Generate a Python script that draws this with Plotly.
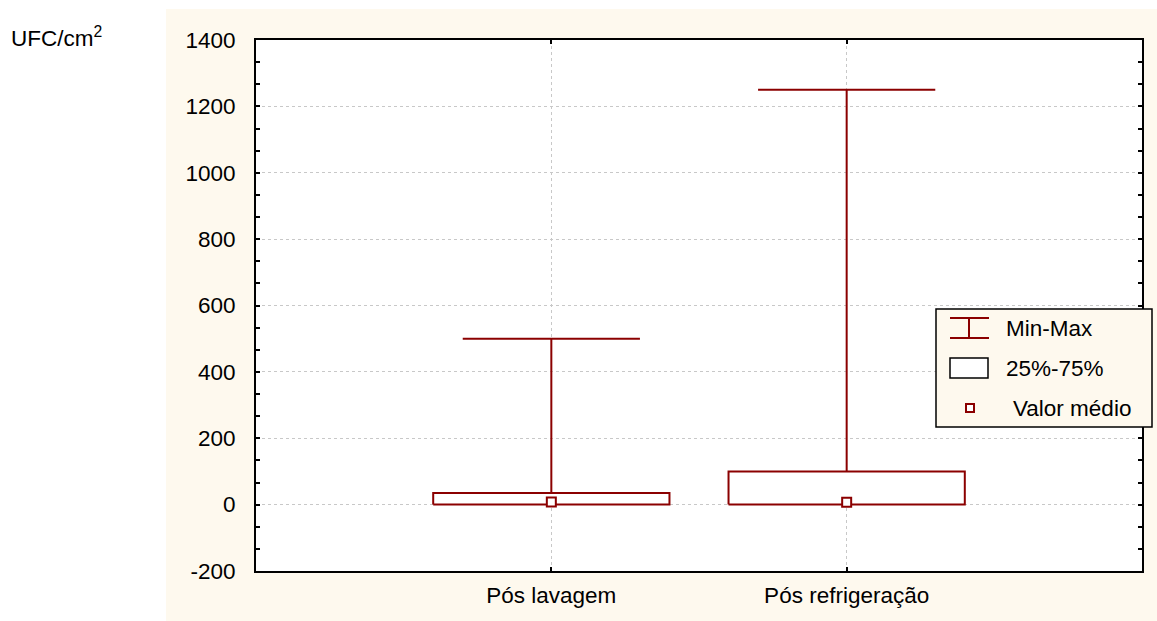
import plotly.graph_objects as go

# ---- data ----
categories = ["Pós lavagem", "Pós refrigeração"]
min_vals = [0, 0]
q1_vals = [0, 0]
q3_vals = [35, 100]
max_vals = [500, 1250]
mean_vals = [8, 7]
y_tickvals = [-200, 0, 200, 400, 600, 800, 1000, 1200, 1400]
y_ticktext = ["-200", "0", "200", "400", "600", "800", "1000", "1200", "1400"]
legend_labels = ["Min-Max", "25%-75%", "Valor médio"]
y_title = "UFC/cm<sup>2</sup>"

RED = "#8B0000"
BEIGE = "#FEF9EE"
FONT = "Liberation Sans, Arial, sans-serif"
FS = 22.5

xpos = [i + 1 for i in range(len(categories))]
box_half = 0.4
cap_half = 0.3

fig = go.Figure()

# whiskers
wx, wy = [], []
for x, lo, q1, q3, hi in zip(xpos, min_vals, q1_vals, q3_vals, max_vals):
    wx += [x, x, None, x - cap_half, x + cap_half, None, x, x, None]
    wy += [q3, hi, None, hi, hi, None, lo, q1, None]
fig.add_trace(go.Scatter(x=wx, y=wy, mode="lines", line=dict(color=RED, width=2),
                         hoverinfo="skip", showlegend=False))

# boxes
for x, q1, q3 in zip(xpos, q1_vals, q3_vals):
    fig.add_trace(go.Scatter(
        x=[x - box_half, x + box_half, x + box_half, x - box_half, x - box_half],
        y=[q1, q1, q3, q3, q1], mode="lines", fill="toself", fillcolor="white",
        line=dict(color=RED, width=2), hoverinfo="skip", showlegend=False))

# means
fig.add_trace(go.Scatter(x=xpos, y=mean_vals, mode="markers",
                         marker=dict(symbol="square", size=9, color="white",
                                     line=dict(color=RED, width=2)),
                         showlegend=False))

# ---- layout ----
W, H = 1157, 621
L, R, T, B = 256, 15, 40, 50
pw, ph = W - L - R, H - T - B

def px(x):
    return (x - L) / pw

def py(y):
    return (H - B - y) / ph

shapes = [
    dict(type="rect", xref="paper", yref="paper", x0=px(166), x1=px(1160),
         y0=py(9), y1=py(625), fillcolor=BEIGE, line=dict(width=0), layer="below"),
    dict(type="rect", xref="paper", yref="paper", x0=0, x1=1, y0=0, y1=1,
         fillcolor="white", line=dict(width=0), layer="below"),
    # legend box
    dict(type="rect", xref="paper", yref="paper", x0=px(936), x1=px(1152),
         y0=py(427), y1=py(309), fillcolor=BEIGE, line=dict(color="black", width=1.5),
         layer="above"),
    # I-bar symbol
    dict(type="line", xref="paper", yref="paper", x0=px(950), x1=px(989),
         y0=py(318), y1=py(318), line=dict(color=RED, width=2), layer="above"),
    dict(type="line", xref="paper", yref="paper", x0=px(950), x1=px(989),
         y0=py(338), y1=py(338), line=dict(color=RED, width=2), layer="above"),
    dict(type="line", xref="paper", yref="paper", x0=px(969), x1=px(969),
         y0=py(318), y1=py(338), line=dict(color=RED, width=2), layer="above"),
    # box symbol
    dict(type="rect", xref="paper", yref="paper", x0=px(950), x1=px(988),
         y0=py(378), y1=py(358), fillcolor="white", line=dict(color="black", width=1.5),
         layer="above"),
    # mean symbol
    dict(type="rect", xref="paper", yref="paper", x0=px(966), x1=px(974),
         y0=py(412), y1=py(404), fillcolor="white", line=dict(color=RED, width=2),
         layer="above"),
]

annotations = [
    dict(text=y_title, xref="paper", yref="paper", x=px(9), y=py(37),
         xanchor="left", yanchor="middle", showarrow=False,
         font=dict(family=FONT, size=FS, color="black")),
    dict(text=legend_labels[0], xref="paper", yref="paper", x=px(1004), y=py(328),
         xanchor="left", yanchor="middle", showarrow=False,
         font=dict(family=FONT, size=FS, color="black")),
    dict(text=legend_labels[1], xref="paper", yref="paper", x=px(1004), y=py(368),
         xanchor="left", yanchor="middle", showarrow=False,
         font=dict(family=FONT, size=FS, color="black")),
    dict(text=legend_labels[2], xref="paper", yref="paper", x=px(1011), y=py(408),
         xanchor="left", yanchor="middle", showarrow=False,
         font=dict(family=FONT, size=FS, color="black")),
]

fig.update_layout(
    width=W, height=H,
    margin=dict(l=L, r=R, t=T, b=B, pad=0),
    paper_bgcolor="white", plot_bgcolor="white",
    font=dict(family=FONT, size=FS, color="black"),
    shapes=shapes, annotations=annotations, showlegend=False,
    xaxis=dict(range=[0, len(categories) + 1], tickvals=xpos, ticktext=categories,
               showline=True, linecolor="black", linewidth=2, mirror="allticks",
               ticks="inside", ticklen=4, tickcolor="black", tickwidth=1.5,
               showgrid=True, gridcolor="#c8c8c8", griddash="dot", gridwidth=1,
               zeroline=False, ticklabelstandoff=3,
               tickfont=dict(family=FONT, size=FS, color="black")),
    yaxis=dict(range=[-200, 1400], tickvals=y_tickvals, ticktext=y_ticktext,
               showline=True, linecolor="black", linewidth=2, mirror="allticks",
               ticks="inside", ticklen=4, tickcolor="black", tickwidth=1.5,
               minor=dict(ticks="inside", dtick=200 / 3, tick0=0, ticklen=4,
                          tickcolor="black", tickwidth=1.5, showgrid=False),
               showgrid=True, gridcolor="#c8c8c8", griddash="dot", gridwidth=1,
               zeroline=False, ticklabelstandoff=14,
               tickfont=dict(family=FONT, size=FS, color="black")),
)

fig.write_html("out.html", config={"displayModeBar": False},
               post_script="document.body.style.margin='0';document.body.style.padding='0';")
